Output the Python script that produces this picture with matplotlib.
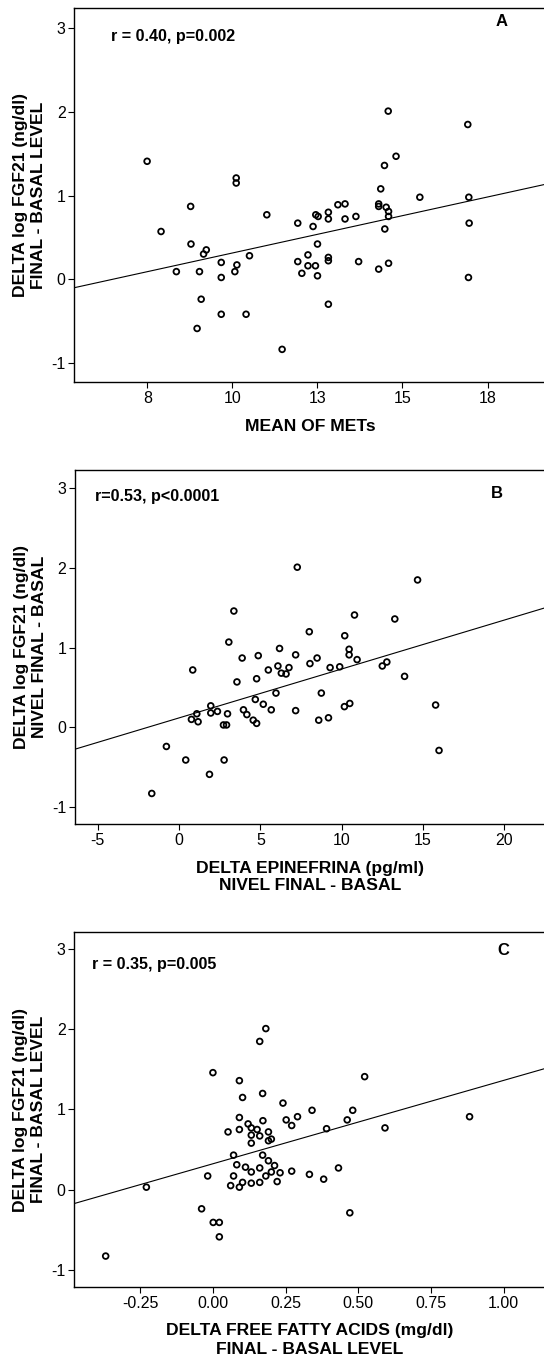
import numpy as np
import matplotlib
matplotlib.use("Agg")
import matplotlib.pyplot as plt
from matplotlib.ticker import FixedLocator, FixedFormatter

plt.rcParams['font.family'] = ['Liberation Sans', 'DejaVu Sans']
plt.rcParams['axes.unicode_minus'] = False

# Panel A: mean METs vs delta log FGF21
mets = [7.49, 14.58, 16.92, 14.81, 14.47, 10.11, 10.11, 14.36, 15.51, 16.95,
        8.77, 7.90, 11.01, 11.92, 12.45, 12.52, 12.82, 12.82, 13.10, 13.31,
        13.31, 13.63, 14.30, 14.30, 14.52, 14.59, 14.59, 14.48, 16.96, 12.37,
        8.78, 9.15, 9.23, 12.50, 10.50, 12.22, 12.82, 12.82, 11.92, 9.67,
        10.13, 12.22, 12.44, 13.71, 14.59, 14.30, 8.35, 9.03, 10.07, 12.04,
        12.50, 9.67, 16.94, 9.08, 12.82, 9.67, 10.40, 8.96, 11.46]
fgf_a = [1.41, 2.01, 1.85, 1.47, 1.36, 1.21, 1.15, 1.08, 0.98, 0.98,
         0.87, 0.57, 0.77, 0.67, 0.77, 0.75, 0.80, 0.72, 0.89, 0.90,
         0.72, 0.75, 0.90, 0.87, 0.86, 0.81, 0.75, 0.60, 0.67, 0.63,
         0.42, 0.30, 0.35, 0.42, 0.28, 0.29, 0.26, 0.22, 0.21, 0.20,
         0.17, 0.16, 0.16, 0.21, 0.19, 0.12, 0.09, 0.09, 0.09, 0.07,
         0.04, 0.02, 0.02, -0.24, -0.30, -0.42, -0.42, -0.59, -0.84]

# Panel B: delta epinefrina vs delta log FGF21
epi = [7.27, 14.67, 3.37, 10.79, 13.27, 8.01, 10.19, 3.06, 6.18, 10.46,
       10.46, 7.17, 4.87, 3.88, 8.49, 10.95, 8.05, 12.78, 12.50, 0.84,
       5.49, 6.08, 6.76, 6.29, 6.58, 9.29, 9.88, 13.87, 3.56, 4.77,
       5.96, 8.75, 4.69, 5.18, 10.50, 10.17, 15.78, 1.95, 1.09, 1.95,
       2.36, 2.98, 3.96, 4.17, 5.67, 7.17, 0.76, 1.17, 4.56, 4.77,
       8.59, 9.19, 2.73, 2.92, -0.78, 0.41, 2.77, 15.99, 1.87, -1.68]
fgf_b = [2.01, 1.85, 1.46, 1.41, 1.36, 1.20, 1.15, 1.07, 0.99, 0.98,
         0.91, 0.91, 0.90, 0.87, 0.87, 0.85, 0.80, 0.82, 0.77, 0.72,
         0.72, 0.77, 0.75, 0.68, 0.67, 0.75, 0.76, 0.64, 0.57, 0.61,
         0.43, 0.43, 0.35, 0.29, 0.30, 0.26, 0.28, 0.27, 0.17, 0.18,
         0.20, 0.17, 0.22, 0.16, 0.22, 0.21, 0.10, 0.07, 0.09, 0.05,
         0.09, 0.12, 0.03, 0.03, -0.24, -0.41, -0.41, -0.29, -0.59, -0.83]

# Panel C: delta free fatty acids vs delta log FGF21
ffa = [0.182, 0.161, 0.000, 0.091, 0.522, 0.102, 0.171, 0.241, 0.341, 0.481,
       0.883, 0.091, 0.291, 0.172, 0.252, 0.462, 0.121, 0.132, 0.152, 0.271,
       0.091, 0.052, 0.191, 0.132, 0.161, 0.201, 0.191, 0.391, 0.592, 0.132,
       0.071, 0.171, 0.191, 0.082, 0.112, 0.212, 0.161, 0.432, 0.132, 0.201,
       0.231, 0.271, 0.332, 0.071, 0.182, -0.018, 0.381, 0.102, 0.132, 0.161,
       0.221, 0.061, 0.091, -0.229, -0.039, 0.471, 0.001, 0.022, 0.022, -0.369]
fgf_c = [2.01, 1.85, 1.46, 1.36, 1.41, 1.15, 1.20, 1.08, 0.99, 0.99,
         0.91, 0.90, 0.91, 0.86, 0.87, 0.87, 0.82, 0.77, 0.75, 0.80,
         0.75, 0.72, 0.72, 0.68, 0.67, 0.63, 0.61, 0.76, 0.77, 0.58,
         0.43, 0.43, 0.36, 0.31, 0.28, 0.30, 0.27, 0.27, 0.22, 0.22,
         0.21, 0.23, 0.19, 0.17, 0.17, 0.17, 0.13, 0.09, 0.08, 0.09,
         0.10, 0.05, 0.03, 0.03, -0.24, -0.29, -0.41, -0.41, -0.59, -0.83]

y_ticks = [-1, 0, 1, 2, 3]
y_labels = ['-1', '0', '1', '2', '3']

paneles = [
    dict(x=mets, y=fgf_a, pos=[74/544, 1-382.3/1363, 472/544, 374/1363],
         xlim=(5.34, 19.22), xticks=[7.5, 10, 12.5, 15, 17.5],
         xticklabels=['8', '10', '13', '15', '18'],
         xlabel="MEAN OF METs", xls=1.0, xlab_y=-0.119,
         ylabel="DELTA log FGF21 (ng/dl)\nFINAL - BASAL LEVEL",
         stat="r = 0.40, p=0.002", stat_xy=(111, 36.7), letra="A", letra_xy=(502, 21.7),
         ylim=(-1.234, 3.24)),
    dict(x=epi, y=fgf_b, pos=[74.7/544, 1-824.3/1363, 471.3/544, 354.3/1363],
         xlim=(-6.42, 22.57), xticks=[-5, 0, 5, 10, 15, 20],
         xticklabels=['-5', '0', '5', '10', '15', '20'],
         xlabel="DELTA EPINEFRINA (pg/ml)\nNIVEL FINAL - BASAL", xls=1.16, xlab_y=-0.150,
         ylabel="DELTA log FGF21 (ng/dl)\nNIVEL FINAL - BASAL",
         stat="r=0.53, p<0.0001", stat_xy=(95, 496.7), letra="B", letra_xy=(497, 493.3),
         ylim=(-1.217, 3.23)),
    dict(x=ffa, y=fgf_c, pos=[74/544, 1-1287.3/1363, 472/544, 355.3/1363],
         xlim=(-0.478, 1.146), xticks=[-0.25, 0.0, 0.25, 0.5, 0.75, 1.0],
         xticklabels=['-0.25', '0.00', '0.25', '0.50', '0.75', '1.00'],
         xlabel="DELTA FREE FATTY ACIDS (mg/dl)\nFINAL - BASAL LEVEL", xls=1.34, xlab_y=-0.148,
         ylabel="DELTA log FGF21 (ng/dl)\nFINAL - BASAL LEVEL",
         stat="r = 0.35, p=0.005", stat_xy=(91.7, 964), letra="C", letra_xy=(503, 950.7),
         ylim=(-1.22, 3.216)),
]

fig = plt.figure(figsize=(5.44, 13.63), dpi=100)

for p in paneles:
    ax = fig.add_axes(p['pos'])
    x = np.array(p['x'])
    y = np.array(p['y'])

    # recta de regresion
    m, b = np.polyfit(x, y, 1)
    xs = np.array(p['xlim'])
    ax.plot(xs, m*xs + b, color='black', linewidth=0.8, zorder=2)

    ax.scatter(x, y, s=17, facecolors='none', edgecolors='black', linewidths=1.3, zorder=3)

    ax.set_xlim(p['xlim'])
    ax.set_ylim(p['ylim'])
    ax.xaxis.set_major_locator(FixedLocator(p['xticks']))
    ax.xaxis.set_major_formatter(FixedFormatter(p['xticklabels']))
    ax.yaxis.set_major_locator(FixedLocator(y_ticks))
    ax.yaxis.set_major_formatter(FixedFormatter(y_labels))
    ax.tick_params(direction='out', length=4, width=0.8, labelsize=11.5, pad=2, colors='black')

    for s in ax.spines.values():
        s.set_linewidth(1.0)
        s.set_color('black')

    ax.set_xlabel(p['xlabel'], fontsize=12.6, fontweight='bold', linespacing=p['xls'], va='center')
    ax.xaxis.set_label_coords(0.5, p['xlab_y'])
    ax.set_ylabel(p['ylabel'], fontsize=12.6, fontweight='bold', linespacing=1.3, va='center')
    ax.yaxis.set_label_coords(-0.094, 0.5)

    fig.text(p['stat_xy'][0]/544, 1 - p['stat_xy'][1]/1363, p['stat'], fontsize=11.6,
             fontweight='bold', ha='left', va='center')
    fig.text(p['letra_xy'][0]/544, 1 - p['letra_xy'][1]/1363, p['letra'], fontsize=12,
             fontweight='bold', ha='center', va='center')

plt.savefig("out.png", dpi=100)
